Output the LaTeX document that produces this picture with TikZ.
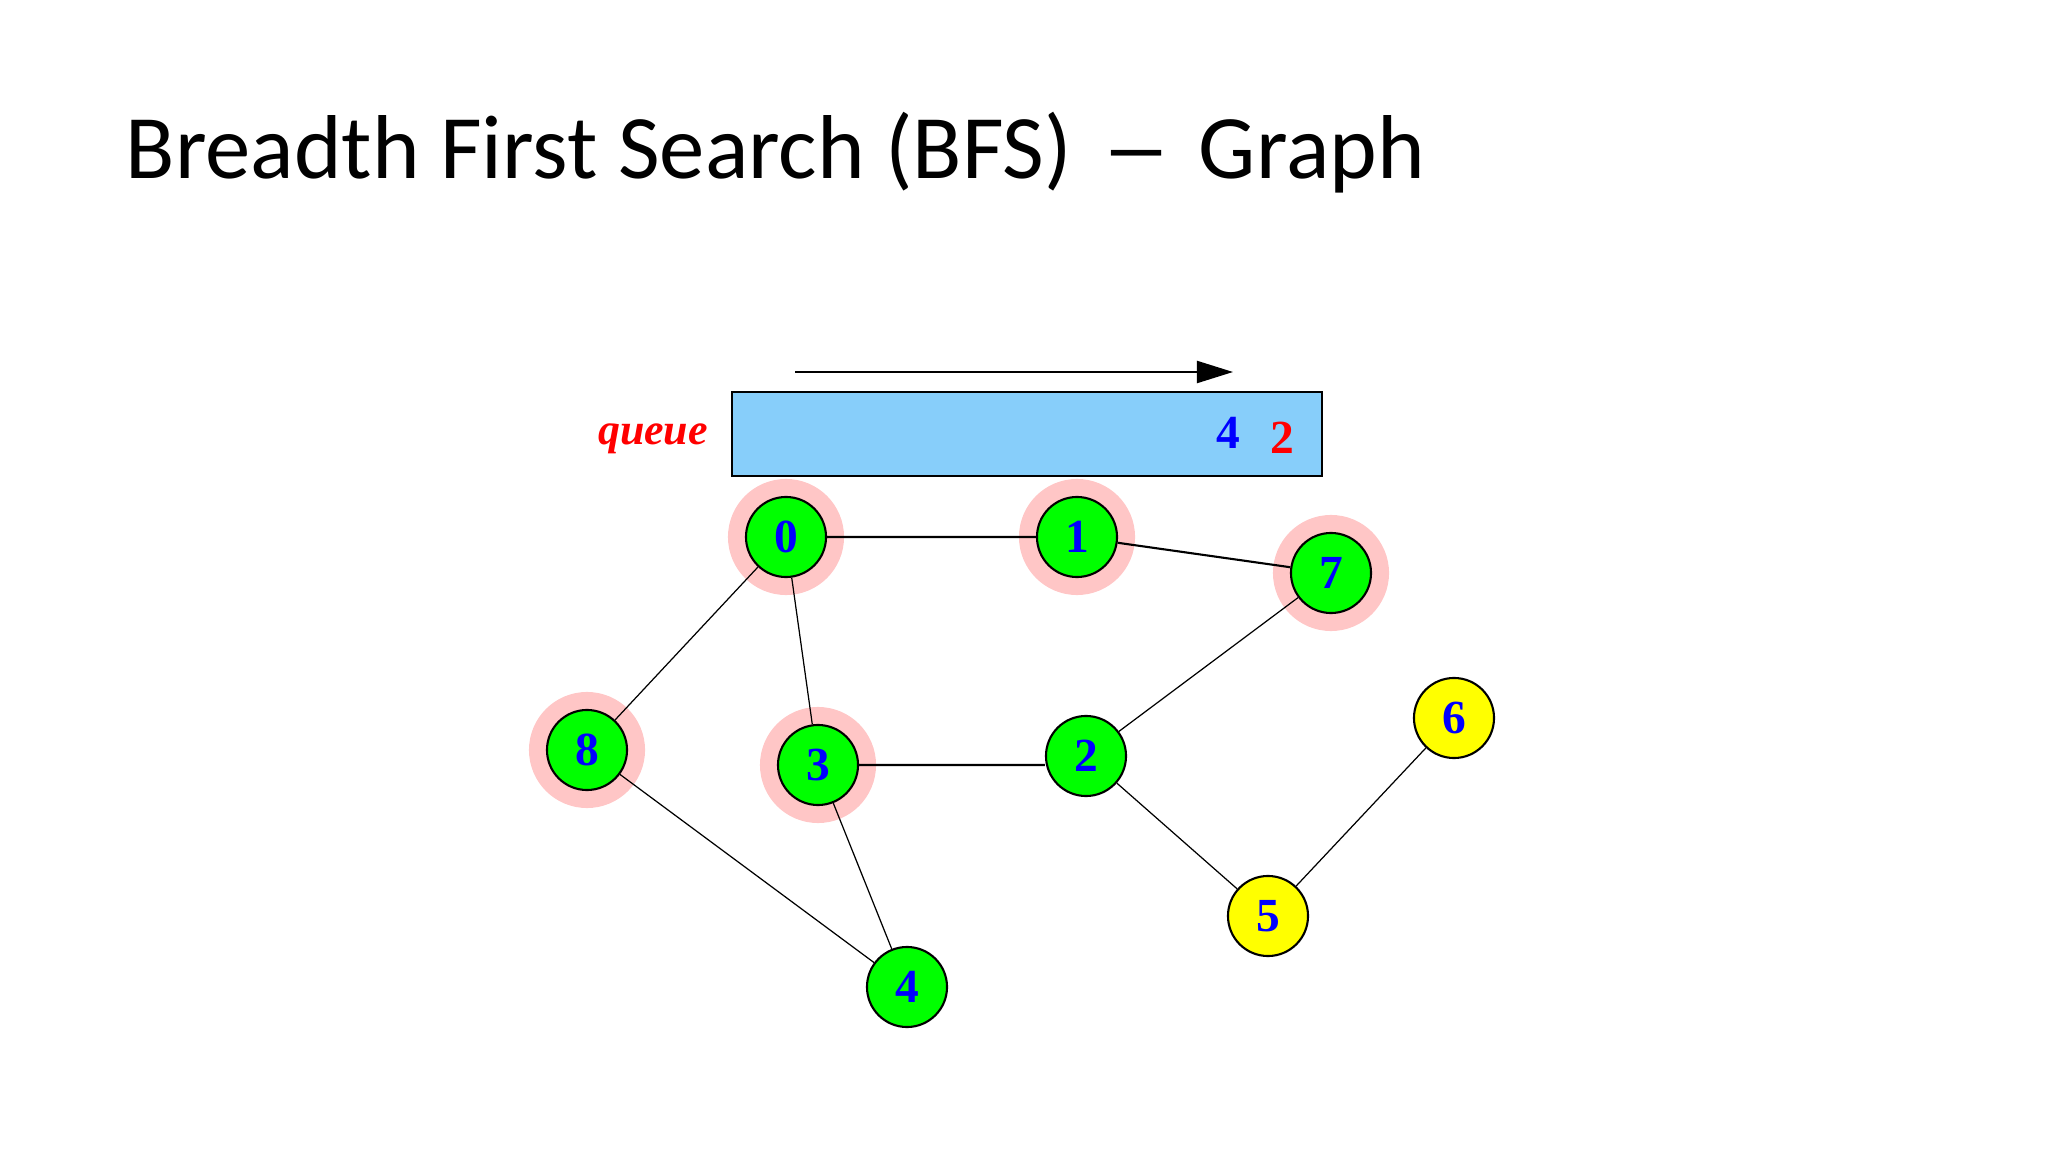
\documentclass[tikz,border=0pt]{standalone}
\usepackage{fontspec}
\usetikzlibrary{arrows.meta,backgrounds}
\newfontfamily\titlefont{Carlito}
\newfontfamily\numfont{Liberation Serif}
\definecolor{vgreen}{RGB}{0,255,0}
\definecolor{vyellow}{RGB}{255,255,0}
\definecolor{vblue}{RGB}{0,0,255}
\definecolor{qred}{RGB}{255,0,0}
\definecolor{qblue}{RGB}{135,206,250}
\definecolor{halo}{RGB}{255,198,198}
\begin{document}
\begin{tikzpicture}[x=0.01cm,y=-0.01cm,
    vertex/.style={circle,draw,line width=0.6pt,minimum size=0.8cm,inner sep=0pt,
        text=vblue,font=\numfont\bfseries\fontsize{13.5}{16}\selectfont},
    seen/.style={vertex,fill=vgreen},
    unseen/.style={vertex,fill=vyellow},
    link/.style={line width=0.35pt}]
    \useasboundingbox (0,0) rectangle (2048,1152);
    \node[anchor=base west,inner sep=0pt,font=\titlefont\fontsize{25.8}{30}\selectfont] (title) at (125,179)
        {Breadth First Search (BFS)\hspace{0.3cm}\scalebox{1.55}[1]{–}\hspace{0.27cm}Graph};
    % queue
    \node[draw,fill=qblue,line width=0.6pt,minimum width=5.9cm,minimum height=0.84cm,inner sep=0pt] (queue) at (1027,434) {};
    \node[anchor=base,text=qred,font=\numfont\bfseries\itshape\fontsize{12.5}{15}\selectfont] (qlabel) at (653,445) {queue};
    \node[anchor=base,inner sep=0pt,text=vblue,font=\numfont\bfseries\fontsize{13.5}{16}\selectfont] (qfront) at (1228,449) {4};
    \node[anchor=base,inner sep=0pt,text=qred,font=\numfont\bfseries\fontsize{13.5}{16}\selectfont] (qback) at (1282,454) {2};
    \coordinate (tail) at (795,372);
    \coordinate (head) at (1233,372);
    \draw[-{Triangle[length=3.6mm,width=2.2mm]},line width=0.6pt] (tail) -- (head);
    % graph
    \foreach \n/\x/\y/\s in {0/786/537/seen,1/1077/537/seen,7/1331/573/seen,8/587/750/seen,
        3/818/765/seen,2/1086/756/seen,6/1454/718/unseen,5/1268/916/unseen,4/907/987/seen}
        {\node[\s] (v\n) at (\x,\y) {\n};
        }
    \begin{scope}[on background layer]
        \foreach \n in {0,1,7,8,3}
            {\fill[halo] (v\n) circle (0.58cm);
            }
    \end{scope}
    \foreach \a/\b in {0/8,0/3,2/7,8/4,3/4,2/5,5/6}
        {\draw[link] (v\a) -- (v\b);
        }
    \draw[line width=0.6pt] (v0) -- (v1) (v1) -- (v7) (v3) -- (v3 -| v2.west);
\end{tikzpicture}
\end{document}
